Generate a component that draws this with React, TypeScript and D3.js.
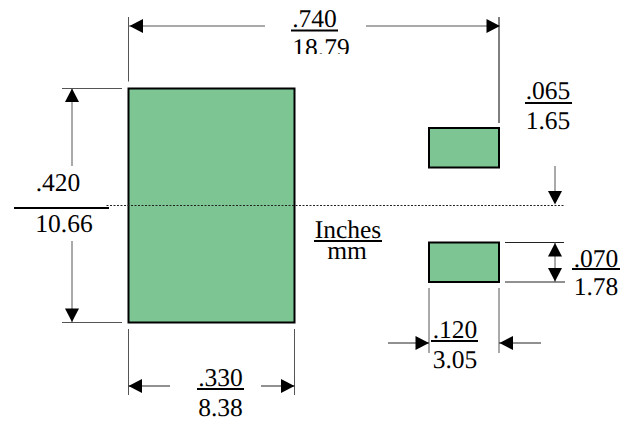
import React from "react";
import * as d3 from "d3";

// Dimension values, inches over millimetres
const dimensionNames = ["overall", "bigWidth", "bigHeight", "gap", "padWidth", "padHeight"];
const inches = [0.74, 0.33, 0.42, 0.065, 0.12, 0.07];
const inchLabels = [".740", ".330", ".420", ".065", ".120", ".070"];
const mmLabels = ["18.79", "8.38", "10.66", "1.65", "3.05", "1.78"];
const unitLabels = ["Inches", "mm"];

const val = (n: string) => inches[dimensionNames.indexOf(n)];
const [overall, bigW, bigH, gap, padW, padH] = dimensionNames.map(val);

// The drawing is not to one scale, so each scale is pinned on the drawing's own features.
const x = d3.scaleLinear()
  .domain([0, bigW, overall - padW, overall])
  .range([128.5, 294.5, 429, 499]);
const y = d3.scaleLinear()
  .domain([-bigH / 2, -gap - padH, -gap, 0, gap, gap + padH, bigH / 2])
  .range([88.5, 128, 167.5, 205.5, 242.5, 282, 322.5]);

const FONT = "'Liberation Serif','Times New Roman',serif";
const GREY = "#555";

const L = ({ a, b, c, d, w = 1, s = GREY, dash }: any) => (
  <line x1={a} y1={b} x2={c} y2={d} stroke={s} strokeWidth={w} strokeDasharray={dash} />
);

const Head = ({ tx, ty, dir }: { tx: number; ty: number; dir: "l" | "r" | "u" | "d" }) => {
  const len = 13.5, hw = 7;
  const pts =
    dir === "l" ? [[tx, ty], [tx + len, ty - hw], [tx + len, ty + hw]] :
    dir === "r" ? [[tx, ty], [tx - len, ty - hw], [tx - len, ty + hw]] :
    dir === "u" ? [[tx, ty], [tx - hw, ty + len], [tx + hw, ty + len]] :
    [[tx, ty], [tx - hw, ty - len], [tx + hw, ty - len]];
  return <polygon points={pts.map((p) => p.join(",")).join(" ")} fill="#000" />;
};

const T = ({ tx, ty, children }: any) => (
  <text x={tx} y={ty} textAnchor="middle" fontFamily={FONT} fontSize={25.5} fill="#000"
    style={{ textRendering: "geometricPrecision" }}>{children}</text>
);

const Frac = ({ i, cx, top, rule, bottom, x0, x1, cx2 }: any) => (
  <g>
    <T tx={cx} ty={top}>{inchLabels[i]}</T>
    <L a={x0} b={rule} c={x1} d={rule} w={2} s="#000" />
    <T tx={cx2 ?? cx} ty={bottom}>{mmLabels[i]}</T>
  </g>
);

export default function App() {
  const padRects = [
    [0, bigW, -bigH / 2, bigH / 2],
    [overall - padW, overall, -gap - padH, -gap],
    [overall - padW, overall, gap, gap + padH],
  ];
  const xL = x(0), xB = x(bigW), xP = x(overall - padW), xR = x(overall);
  const yT = y(-bigH / 2), yB = y(bigH / 2), yC = y(0);
  const yP1 = y(-gap - padH), yP2 = y(gap), yP3 = y(gap + padH);
  return (
    <svg width={630} height={423} style={{ position: "absolute", left: 0, top: 0, display: "block", background: "#fff" }}>
      {padRects.map((r, i) => (
        <rect key={i} x={x(r[0])} y={y(r[2])} width={x(r[1]) - x(r[0])} height={y(r[3]) - y(r[2])}
          fill="#7DC592" stroke="#000" strokeWidth={2} />
      ))}
      <L a={xL - 22} b={yC} c={564} d={yC} s="#222" w={1} dash="2 1.5" />

      {/* overall width */}
      <L a={xL} b={17} c={xL} d={yT - 7} />
      <L a={xR} b={17} c={xR} d={yP1 - 5} s="#000" />
      <L a={xL} b={26} c={265} d={26} />
      <L a={366} b={26} c={xR} d={26} />
      <Head tx={xL + 1} ty={26} dir="l" />
      <Head tx={xR + 1} ty={26} dir="r" />
      <Frac i={0} cx={314.5} cx2={321} top={27} rule={30.5} bottom={56} x0={291} x1={338} />
      <rect x={280} y={54} width={90} height={10} fill="#fff" />

      {/* big pad height */}
      <L a={62} b={yT} c={122} d={yT} />
      <L a={62} b={yB} c={122} d={yB} />
      <L a={72} b={yT} c={72} d={166} />
      <L a={72} b={241} c={72} d={yB} />
      <Head tx={72} ty={yT} dir="u" />
      <Head tx={72} ty={yB - 0.5} dir="d" />
      <Frac i={2} cx={58} cx2={64} top={191} rule={208} bottom={232} x0={14} x1={109} />

      {/* big pad width */}
      <L a={xL} b={329} c={xL} d={395} />
      <L a={xB} b={329} c={xB} d={395} />
      <L a={xL} b={386} c={170} d={386} s="#222" />
      <L a={261} b={386} c={xB} d={386} s="#222" />
      <Head tx={xL} ty={386} dir="l" />
      <Head tx={xB} ty={386} dir="r" />
      <Frac i={1} cx={220.5} top={386} rule={389} bottom={416} x0={197} x1={244} />

      {/* gap */}
      <L a={555} b={166} c={555} d={195} />
      <Head tx={555} ty={yC - 1} dir="d" />
      <Frac i={3} cx={548} top={99} rule={103} bottom={129} x0={525} x1={572} />

      {/* pad height */}
      <L a={505} b={yP2} c={564} d={yP2} s="#222" />
      <L a={505} b={yP3} c={565} d={yP3} s="#222" />
      <L a={555} b={yP2} c={555} d={yP3} />
      <Head tx={555} ty={yP2 + 0.5} dir="u" />
      <Head tx={555} ty={yP3 - 0.5} dir="d" />
      <Frac i={5} cx={596} top={267} rule={269} bottom={295} x0={572} x1={620} />

      {/* pad width */}
      <L a={xP} b={288} c={xP} d={353} />
      <L a={xR} b={288} c={xR} d={353} />
      <L a={388} b={343} c={xP} d={343} s="#222" />
      <L a={xR} b={343} c={541} d={343} s="#222" />
      <Head tx={xP} ty={343} dir="r" />
      <Head tx={xR + 0.5} ty={343} dir="l" />
      <Frac i={4} cx={455} top={338} rule={341} bottom={368} x0={431} x1={478} />

      {/* units */}
      <T tx={348} ty={238}>{unitLabels[0]}</T>
      <L a={314} b={241} c={382} d={241} w={2} s="#000" />
      <T tx={347} ty={259}>{unitLabels[1]}</T>
    </svg>
  );
}
